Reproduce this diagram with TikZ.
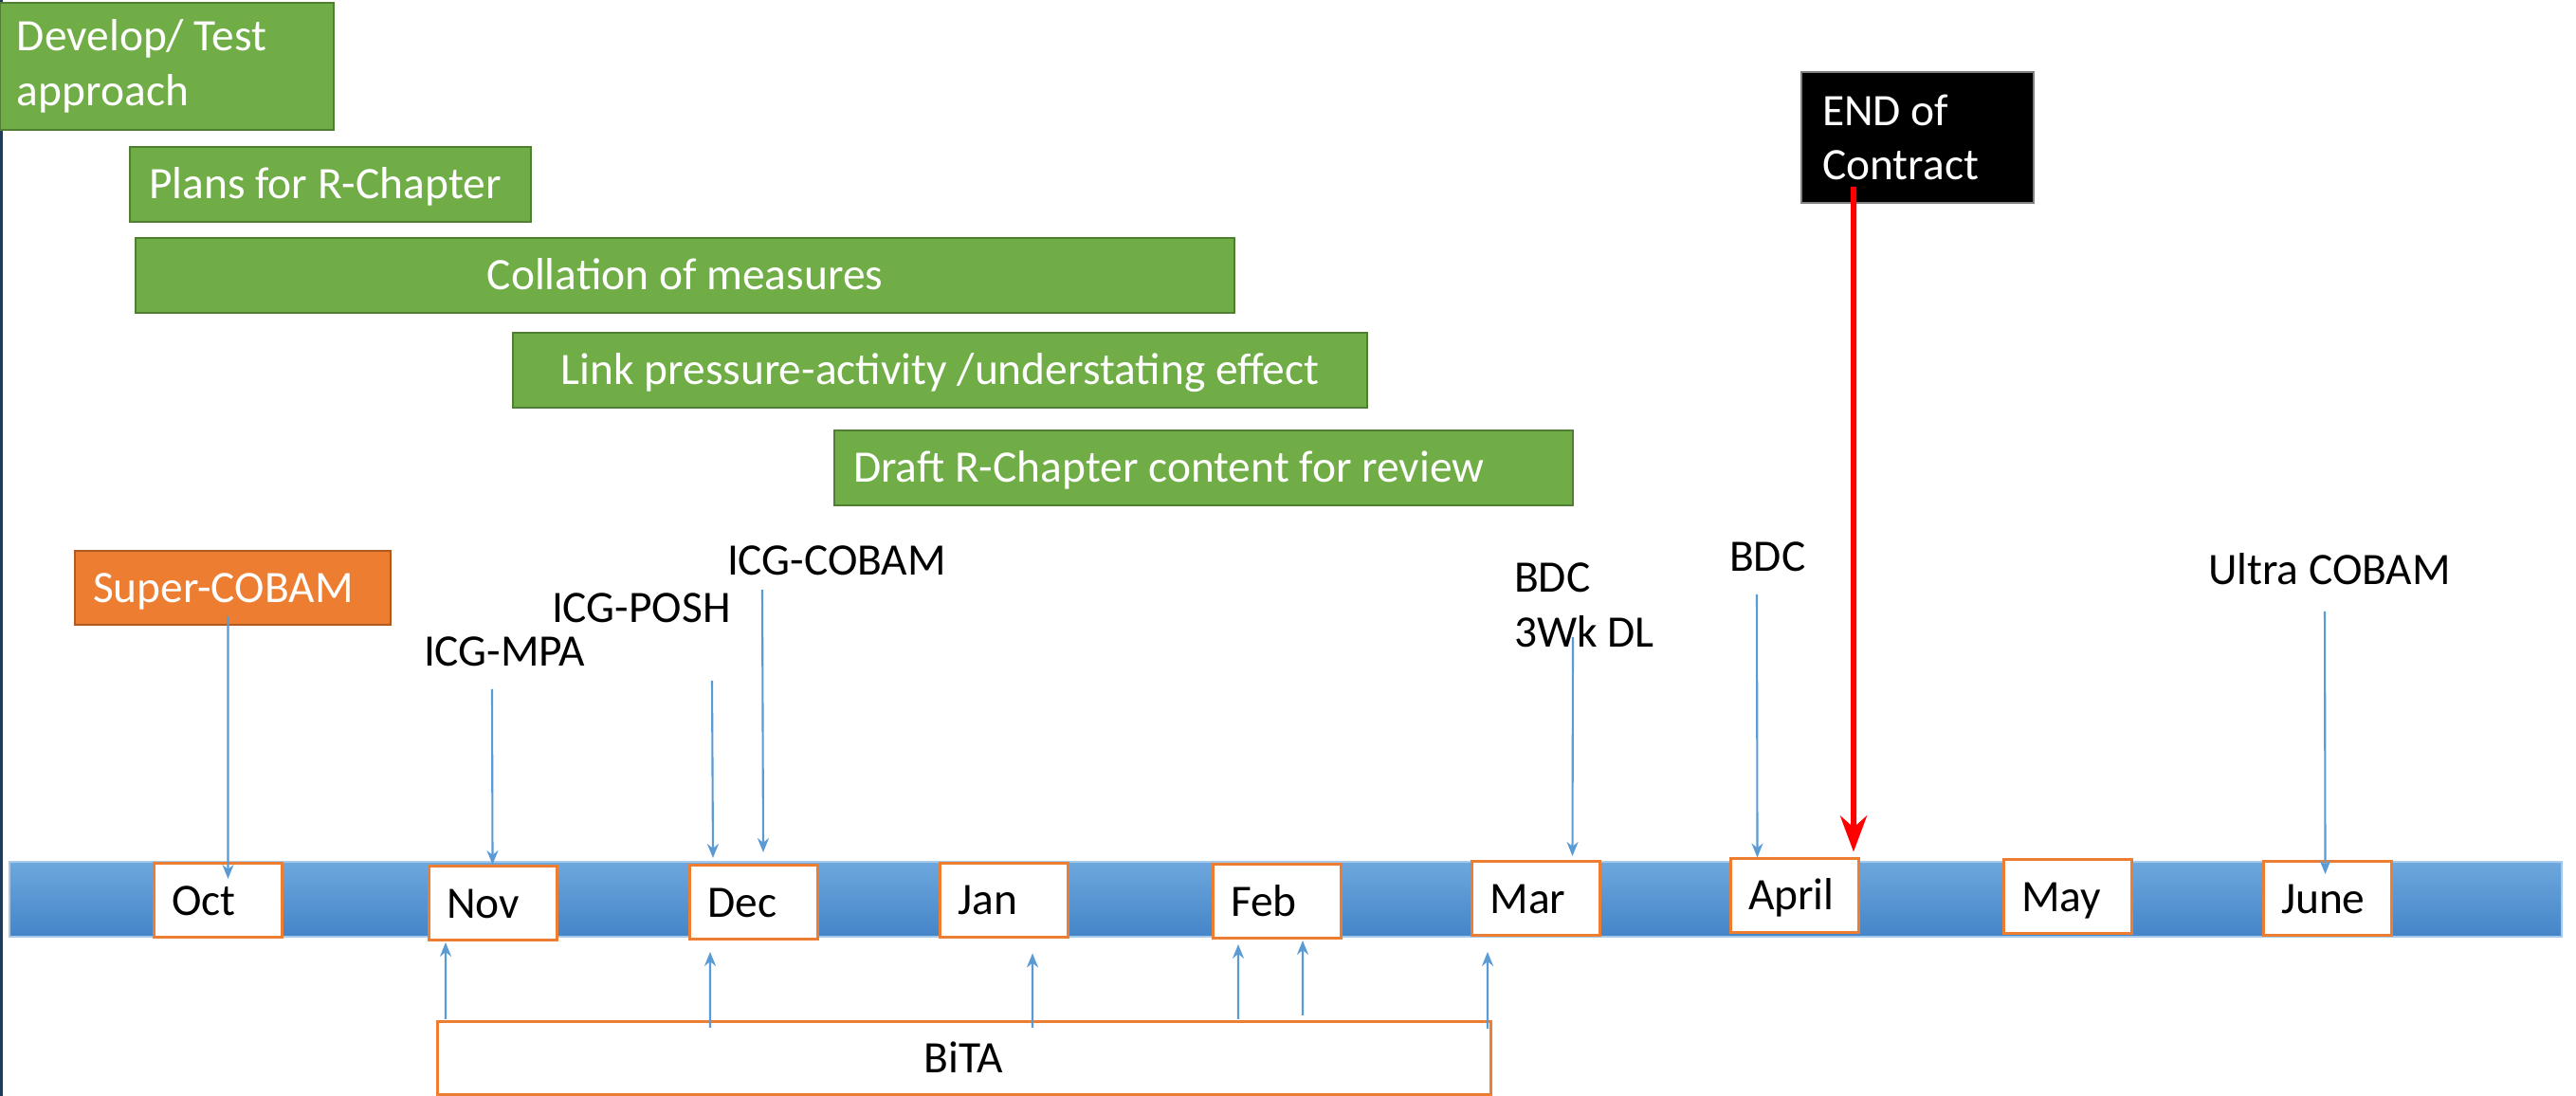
\documentclass[tikz,border=0pt]{standalone}
\usepackage{fontspec}
\setmainfont{Carlito}
\usetikzlibrary{arrows.meta}

\definecolor{phasegreen}{HTML}{70AD47}
\definecolor{phaseedge}{HTML}{507E32}
\definecolor{monthorange}{HTML}{ED7D31}
\definecolor{superedge}{HTML}{AE5A21}
\definecolor{eventblue}{HTML}{5B9BD5}
\definecolor{bartop}{HTML}{6DA7DD}
\definecolor{barbottom}{HTML}{4485C8}
\definecolor{baredge}{HTML}{A8CAEA}
\definecolor{slideedge}{HTML}{1F3B57}

\begin{document}
\begin{tikzpicture}[x=1cm,y=1cm,
  every node/.style={font=\fontsize{13.5}{16.3}\selectfont, outer sep=0pt},
  oneline/.style={text height=8.8pt, text depth=0pt},
  phase/.style={draw=phaseedge, fill=phasegreen, text=white, line width=0.6pt, inner ysep=0pt, minimum height=0.79cm},
  month/.style={oneline, draw=monthorange, fill=white, line width=0.85pt, text width=0.97cm, inner xsep=0.19cm, inner ysep=0pt, minimum height=0.78cm, align=flush left},
  event/.style={inner sep=0pt, text depth=0pt},
  evarrow/.style={eventblue, line width=0.6pt, -{Stealth[length=0.15cm,width=0.12cm]}},
  endarrow/.style={red, line width=1.7pt, -{Stealth[length=0.38cm,width=0.28cm]}}]
  \fill[white] (0,0) rectangle (27.17,11.56);
  \useasboundingbox (0,0) rectangle (27.17,11.56);
  \draw[slideedge, line width=0.85pt] (0.015,0) -- (0.015,11.56);

  \node[phase, text width=3.16cm, inner xsep=0.18cm, minimum height=1.34cm, align=flush left] (develop) at (1.76,10.86) {Develop/ Test\\approach};
  \node[phase, oneline, text width=3.83cm, inner xsep=0.2cm, align=flush left] (plans) at (3.485,9.615) {Plans for R-Chapter};
  \node[phase, oneline, minimum width=11.59cm, inner xsep=0pt] (collation) at (7.225,8.655) {Collation of measures};
  \node[phase, oneline, minimum width=9.01cm, inner xsep=0pt] (link) at (9.915,7.655) {Link pressure-activity /understating effect};
  \node[phase, oneline, text width=7.39cm, inner xsep=0.2cm, align=flush left] (draft) at (12.695,6.625) {Draft R-Chapter content for review};
  \node[draw=gray, fill=black, text=white, line width=0.5pt, text width=2.01cm, inner xsep=0.22cm, inner ysep=0pt, minimum height=1.38cm, align=flush left] (endc) at (20.225,10.11) {END of\\Contract};

  \node[oneline, draw=superedge, fill=monthorange, text=white, line width=0.6pt, text width=2.95cm, inner xsep=0.19cm, inner ysep=0pt, minimum height=0.78cm, align=flush left] (super) at (2.455,5.36) {Super-COBAM};
  \node[event, anchor=base west] (mpa) at (4.47,4.53) {ICG-MPA};
  \node[event, anchor=base west] (posh) at (5.82,4.99) {ICG-POSH};
  \node[event, anchor=base west] (cobam) at (7.67,5.49) {ICG-COBAM};
  \node[event, anchor=north west, align=flush left] (bdcdl) at (15.97,5.62) {BDC\\3Wk DL};
  \node[event, anchor=base west] (bdc) at (18.24,5.53) {BDC};
  \node[event, anchor=base west] (ultra) at (23.29,5.39) {Ultra COBAM};

  \node[draw=baredge, line width=0.5pt, top color=bartop, bottom color=barbottom, minimum width=26.92cm, minimum height=0.79cm, inner sep=0pt] (timeline) at (13.56,2.075) {};
  \node[month] (oct) at (2.30,2.06) {Oct};
  \node[month] (nov) at (5.195,2.03) {Nov};
  \node[month] (dec) at (7.95,2.04) {Dec};
  \node[month] (jan) at (10.59,2.065) {Jan};
  \node[month] (feb) at (13.465,2.05) {Feb};
  \node[month] (mar) at (16.20,2.08) {Mar};
  \node[month] (apr) at (18.925,2.115) {April};
  \node[month] (may) at (21.805,2.10) {May};
  \node[month] (jun) at (24.545,2.08) {June};

  \node[oneline, draw=monthorange, fill=white, line width=0.85pt, minimum width=11.11cm, minimum height=0.77cm, inner sep=0pt] (bita) at (10.165,0.395) {BiTA};

  \draw[evarrow] ([xshift=-0.05cm,yshift=0.09cm]super.south) -- ([xshift=0.105cm,yshift=-0.16cm]oct.north);
  \draw[evarrow] ([xshift=0.72cm,yshift=-0.24cm]mpa.south west) -- ([yshift=0.02cm]nov.north);
  \draw[evarrow] ([xshift=1.69cm,yshift=-0.61cm]posh.south west) -- ([xshift=-0.43cm,yshift=0.08cm]dec.north);
  \draw[evarrow] ([xshift=0.37cm,yshift=-0.15cm]cobam.south west) -- ([xshift=0.10cm,yshift=0.14cm]dec.north);
  \draw[evarrow] ([xshift=0.62cm,yshift=-0.78cm]bdcdl.north west) -- ([xshift=0.385cm,yshift=0.06cm]mar.north);
  \draw[evarrow] ([xshift=0.29cm,yshift=-0.24cm]bdc.south west) -- ([xshift=-0.39cm,yshift=0.01cm]apr.north);
  \draw[evarrow] ([xshift=1.23cm,yshift=-0.28cm]ultra.south west) -- ([xshift=-0.02cm,yshift=-0.13cm]jun.north);
  \draw[endarrow] ([xshift=-0.675cm,yshift=0.17cm]endc.south) -- ([xshift=0.625cm,yshift=0.07cm]apr.north);

  \draw[evarrow] ([xshift=0.09cm,yshift=0.03cm]bita.north west) -- ([xshift=-0.495cm,yshift=-0.02cm]nov.south);
  \draw[evarrow] ([xshift=2.88cm,yshift=-0.06cm]bita.north west) -- ([xshift=-0.46cm,yshift=-0.13cm]dec.south);
  \draw[evarrow] ([xshift=6.28cm,yshift=-0.06cm]bita.north west) -- ([xshift=0.30cm,yshift=-0.17cm]jan.south);
  \draw[evarrow] ([xshift=8.45cm,yshift=0.03cm]bita.north west) -- ([xshift=-0.405cm,yshift=-0.06cm]feb.south);
  \draw[evarrow] ([xshift=9.13cm,yshift=0.07cm]bita.north west) -- ([xshift=0.275cm,yshift=-0.02cm]feb.south);
  \draw[evarrow] ([xshift=11.08cm,yshift=-0.07cm]bita.north west) -- ([xshift=-0.51cm,yshift=-0.17cm]mar.south);
\end{tikzpicture}
\end{document}
